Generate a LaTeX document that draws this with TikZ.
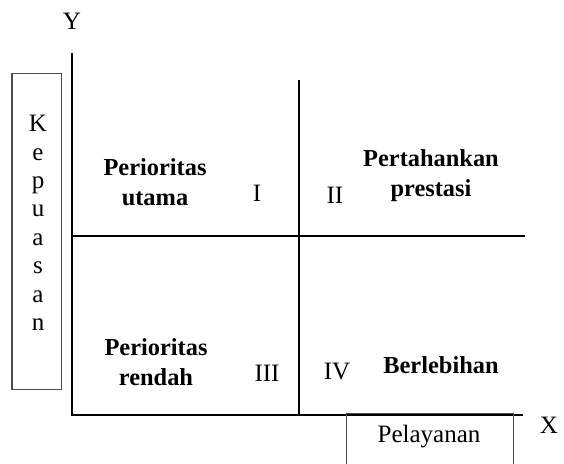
\documentclass[tikz,border=0pt]{standalone}
\usepackage{fontspec}
\setmainfont{Liberation Serif}
\usepackage{tikz}
\newcommand{\pelbox}{\draw[box] (346,464) -- (346,414) -- (513,414) -- (513,464);}

\begin{document}
\begin{tikzpicture}[x=0.5pt, y=-0.5pt,
    axisline/.style={line width=1pt},
    lbl/.style={font=\fontsize{12.2}{15}\selectfont\bfseries, align=center},
    num/.style={font=\fontsize{12.5}{14}\selectfont},
    box/.style={draw=black!70, line width=0.5pt}]
    \useasboundingbox (0,0) rectangle (564,464);
    % axes and quadrant lines
    \coordinate (O) at (72,415);
    \coordinate (ytop) at (72,53);
    \coordinate (xend) at (523,415);
    \draw[axisline] (ytop) -- (O) -- (xend);
    \draw[axisline] (72,236) -- (525,236);
    \draw[axisline] (299,80) -- (299,415);
    \node[num] (ylab) at (72,21) {Y};
    \node[num] (xlab) at (549,425) {X};
    % side boxes
    \node[box, minimum width=24.5pt, minimum height=158pt] (kepbox) at (36.5,232) {};
    \node[font=\fontsize{12.5}{14.2}\selectfont, align=center] (kep) at (38,223)
        {K\\e\\p\\u\\a\\s\\a\\n};
    \pelbox
    \node[num] (pel) at (429,437) {Pelayanan};
    % quadrants
    \node[lbl] (q1) at (155,182) {Perioritas\\utama};
    \node[num] (n1) at (257,193) {I};
    \node[lbl] (q2) at (431,176) {Pertahankan\\prestasi};
    \node[num] (n2) at (335,195) {II};
    \node[lbl] (q3) at (156,362) {Perioritas\\rendah};
    \node[num] (n3) at (267,373) {III};
    \node[lbl] (q4) at (441,365) {Berlebihan};
    \node[num] (n4) at (337,372) {IV};
\end{tikzpicture}
\end{document}
